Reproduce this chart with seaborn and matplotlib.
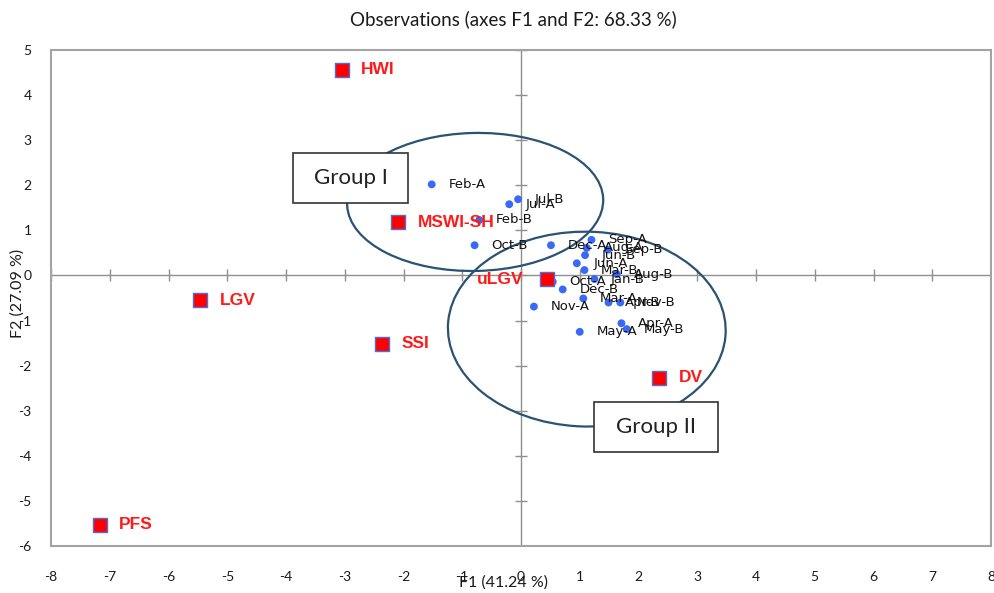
import matplotlib
matplotlib.use("Agg")
import matplotlib.pyplot as plt
from matplotlib.patches import Ellipse, Rectangle
import seaborn as sns
import pandas as pd
import numpy as np

# ---- data ----
obs_labels = ["Feb-A", "Jul-A", "Jul-B", "Feb-B", "Oct-B", "Dec-A", "Sep-A", "Aug-A",
              "Sep-B", "Jun-B", "Jun-A", "Mar-B", "Aug-B", "Jan-B", "Oct-A", "Dec-B",
              "Mar-A", "Apr-B", "Nov-B", "Nov-A", "May-A", "Apr-A", "May-B"]
obs_f1 = [-1.52, -0.20, -0.05, -0.71, -0.79, 0.51, 1.20, 1.12,
          1.48, 1.09, 0.95, 1.08, 1.63, 1.25, 0.54, 0.71,
          1.06, 1.49, 1.69, 0.22, 1.00, 1.71, 1.80]
obs_f2 = [2.02, 1.58, 1.69, 1.23, 0.67, 0.67, 0.79, 0.61,
          0.57, 0.45, 0.27, 0.12, 0.03, -0.08, -0.14, -0.31,
          -0.51, -0.60, -0.60, -0.69, -1.25, -1.06, -1.19]

var_labels = ["HWI", "MSWI-SH", "LGV", "SSI", "PFS", "uLGV", "DV"]
var_f1 = [-3.05, -2.09, -5.46, -2.36, -7.17, 0.45, 2.35]
var_f2 = [4.56, 1.18, -0.55, -1.52, -5.53, -0.08, -2.27]

x_ticks = list(range(-8, 9))
y_ticks = list(range(-6, 6))

title_text = "Observations (axes F1 and F2: 68.33 %)"
xlabel_text = "F1 (41.24 %)"
ylabel_text = "F2 (27.09 %)"

# group annotations (center x, center y, width, height, angle) in data units
group1_ellipse = (-0.78, 1.63, 4.36, 3.06, 2)
group2_ellipse = (1.12, -1.19, 4.73, 4.32, -4)
group1_box = (-3.876, 1.615, 1.958, 1.095)
group2_box = (1.242, -3.91, 2.116, 1.10)

obs_df = pd.DataFrame({"F1": obs_f1, "F2": obs_f2, "label": obs_labels})
var_df = pd.DataFrame({"F1": var_f1, "F2": var_f2, "label": var_labels})

sns.set_style("white")
plt.rcParams["font.family"] = ["Liberation Sans", "DejaVu Sans"]

fig = plt.figure(figsize=(9.94, 5.93), dpi=100)
ax = fig.add_axes([51 / 994, 47 / 593, 940 / 994, 496 / 593])
ax.set_xlim(-8, 8)
ax.set_ylim(-6, 5)

grey = "#8f8f8f"
# zero lines with cross ticks
ax.axhline(0, color=grey, lw=1.0, zorder=1)
ax.axvline(0, color=grey, lw=1.0, zorder=1)
ax.plot(x_ticks, [0] * len(x_ticks), ls="none", marker="|", ms=8, mew=1.0, color=grey, zorder=1)
ax.plot([0] * len(y_ticks), y_ticks, ls="none", marker="_", ms=8, mew=1.0, color=grey, zorder=1)

# ellipses
ell_col = "#2b5272"
for (cx, cy, w, h, a) in (group1_ellipse, group2_ellipse):
    ax.add_patch(Ellipse((cx, cy), w, h, angle=a, fill=False, ec=ell_col, lw=1.6, zorder=2))

# points
sns.scatterplot(data=obs_df, x="F1", y="F2", ax=ax, color="#3a6af5", s=32,
                edgecolor="none", zorder=4, legend=False)
sns.scatterplot(data=var_df, x="F1", y="F2", ax=ax, color="#ff0000", marker="s", s=110,
                edgecolor="#4f6fd8", linewidth=1.0, zorder=5, legend=False)

for lab, x, y in zip(obs_labels, obs_f1, obs_f2):
    ax.annotate(lab, (x, y), xytext=(12, 0), textcoords="offset points",
                ha="left", va="center", fontsize=9.5, color="#111111",
                family=["DejaVu Sans"], zorder=6)

for lab, x, y in zip(var_labels, var_f1, var_f2):
    if lab == "uLGV":
        off, ha = (-17, 0), "right"
    else:
        off, ha = (14, 0), "left"
    ax.annotate(lab, (x, y), xytext=off, textcoords="offset points",
                ha=ha, va="center", fontsize=12.5, fontweight="bold", color="#ff1a1a", zorder=6)

# group boxes
for (bx, by, bw, bh), txt in ((group1_box, "Group I"), (group2_box, "Group II")):
    ax.add_patch(Rectangle((bx, by), bw, bh, fc="white", ec="#333333", lw=1.2, zorder=7))
    ax.text(bx + bw / 2, by + bh / 2, txt, ha="center", va="center", fontsize=16,
            color="#222222", family=["Lato", "DejaVu Sans"], zorder=8)

# axes styling
ax.set_xticks(x_ticks)
ax.set_yticks(y_ticks)
ax.set_xticklabels([str(t) for t in x_ticks], family=["Lato", "DejaVu Sans"], fontsize=10)
ax.set_yticklabels([str(t) for t in y_ticks], family=["Lato", "DejaVu Sans"], fontsize=10)
ax.tick_params(axis="x", length=0, pad=18, colors="#1a1a1a")
ax.tick_params(axis="y", length=0, pad=14, colors="#1a1a1a")
for sp in ax.spines.values():
    sp.set_color("#a3a3a3")
    sp.set_linewidth(1.5)
ax.set_xlabel("")
ax.set_ylabel("")

fig.text(503 / 994, 1 - 583 / 593, xlabel_text, ha="center", va="center", fontsize=11.5,
         family=["Lato", "DejaVu Sans"], color="#1a1a1a")
fig.text(18 / 994, 1 - 293 / 593, ylabel_text, ha="center", va="center", rotation=90,
         fontsize=11.5, family=["Lato", "DejaVu Sans"], color="#1a1a1a")
fig.text(513 / 994, 1 - 19 / 593, title_text, ha="center", va="center", fontsize=13.5,
         family=["Lato", "DejaVu Sans"], color="#1a1a1a")

fig.savefig("out.png", dpi=100, facecolor="white")
